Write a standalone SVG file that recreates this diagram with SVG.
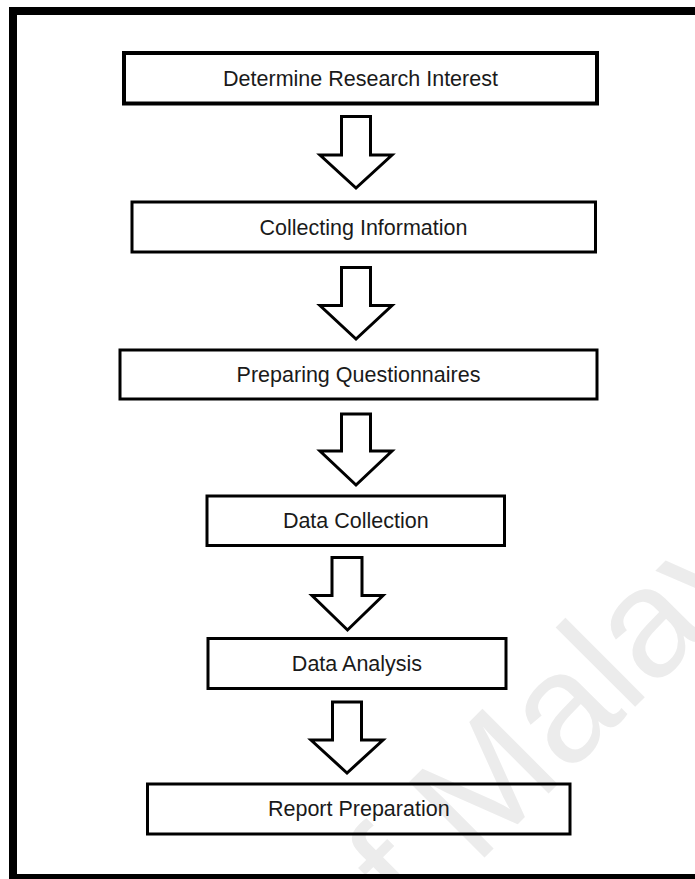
<svg xmlns="http://www.w3.org/2000/svg" width="695" height="879" viewBox="0 0 695 879">
<style>
.box{fill:none;stroke:#000;stroke-width:3}
.lbl{font-family:"Liberation Sans",Arial,sans-serif;font-size:21.5px;fill:#1a1a1a;text-anchor:middle}
.arr{fill:#fff;stroke:#000;stroke-width:3;stroke-linejoin:miter}
.wm{font-family:"Liberation Sans",Arial,sans-serif;font-size:155px;fill:#ececec}
</style>
<rect width="695" height="879" fill="#fff"/>
<text class="wm" transform="translate(353.6,988.4) rotate(-45)">of Malaya</text>
<rect x="13" y="11" width="700" height="867" fill="none" stroke="#000" stroke-width="8"/>
<g id="n1"><rect class="box" x="124" y="53" width="473" height="50.5" style="stroke-width:4"/><text class="lbl" x="360.5" y="86">Determine Research Interest</text></g>
<g id="n2"><rect class="box" x="132" y="202" width="463.5" height="50"/><text class="lbl" x="363.5" y="234.5">Collecting Information</text></g>
<g id="n3"><rect class="box" x="120" y="350" width="477" height="49"/><text class="lbl" x="358.5" y="382">Preparing Questionnaires</text></g>
<g id="n4"><rect class="box" x="207" y="496" width="297.5" height="49.5"/><text class="lbl" x="355.8" y="528.3">Data Collection</text></g>
<g id="n5"><rect class="box" x="208" y="638.5" width="298" height="50"/><text class="lbl" x="357" y="670.8">Data Analysis</text></g>
<g id="n6"><rect class="box" x="147.5" y="784" width="422.5" height="50"/><text class="lbl" x="358.8" y="816">Report Preparation</text></g>
<g id="connectors">
<polygon class="arr" points="341.5,116.5 370.5,116.5 370.5,155 392,155 356,188 320,155 341.5,155"/>
<polygon class="arr" points="341.5,267.5 370.5,267.5 370.5,305.5 392,305.5 356,339 320,305.5 341.5,305.5"/>
<polygon class="arr" points="341.5,414 370.5,414 370.5,451 392,451 356,485 320,451 341.5,451"/>
<polygon class="arr" points="332,557.5 362,557.5 362,595.5 383,595.5 347.5,630 312,595.5 332,595.5"/>
<polygon class="arr" points="332.5,702 361.5,702 361.5,740 383,740 347,773 311,740 332.5,740"/>
</g>
</svg>
